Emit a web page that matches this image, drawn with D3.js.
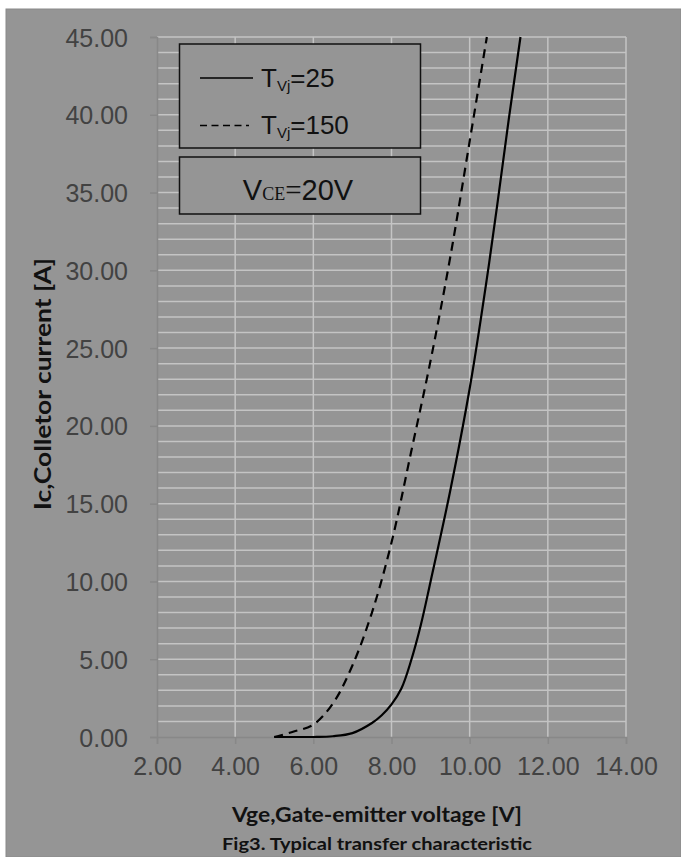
<!DOCTYPE html>
<html>
<head>
<meta charset="utf-8">
<script src="https://cdn.jsdelivr.net/npm/d3@7"></script>
<style>
  body { margin: 0; background: #fff; }
  svg { display: block; }
</style>
</head>
<body>
<svg id="chart" width="681" height="857"></svg>
<script>
// curve data
const vge25 = [5.0, 5.5, 6.0, 6.5, 7.0, 7.5, 7.75, 8.0, 8.25, 8.5, 8.75, 9.0, 9.5, 10.0, 10.5, 11.0, 11.3];
const ic25 = [0, 0, 0, 0.05, 0.25, 0.9, 1.4, 2.1, 3.1, 4.9, 7.2, 10.0, 15.8, 22.4, 30.5, 39.7, 45];
const vge150 = [5.0, 5.5, 6.0, 6.5, 7.0, 7.5, 8.0, 8.5, 9.0, 9.5, 10.0, 10.44];
const ic150 = [0, 0.35, 0.8, 2.15, 4.6, 8.0, 12.5, 18.3, 24.2, 30.8, 38.3, 45];

const xTicks = [2, 4, 6, 8, 10, 12, 14];
const yTicks = [0, 5, 10, 15, 20, 25, 30, 35, 40, 45];
const yMinor = d3.range(0, 46, 1);

const svg = d3.select('#chart');
const W = 681, H = 857;
const plot = { left: 157, right: 626, top: 37, bottom: 737 };

// gray panel
svg.append('rect')
  .attr('x', 6).attr('y', 9)
  .attr('width', W - 6).attr('height', H - 9)
  .attr('fill', '#959595')
  .attr('stroke', '#8a8a8a');

const x = d3.scaleLinear().domain([2, 14]).range([plot.left, plot.right]);
const y = d3.scaleLinear().domain([0, 45]).range([plot.bottom, plot.top]);

// grid
const grid = svg.append('g').attr('stroke', '#c4c4c4').attr('stroke-width', 1.5);
grid.selectAll('.hg').data(yMinor.filter(d => d > 0)).enter().append('line')
  .attr('x1', plot.left).attr('x2', plot.right)
  .attr('y1', d => y(d)).attr('y2', d => y(d));
grid.selectAll('.vg').data(xTicks.filter(d => d > 2)).enter().append('line')
  .attr('x1', d => x(d)).attr('x2', d => x(d))
  .attr('y1', plot.top).attr('y2', plot.bottom);

// axes
const xAxis = d3.axisBottom(x).tickValues(xTicks).tickFormat(d3.format('.2f')).tickSize(7).tickPadding(13);
const yAxis = d3.axisLeft(y).tickValues(yTicks).tickFormat(d3.format('.2f')).tickSize(7).tickPadding(22);

const gx = svg.append('g').attr('transform', `translate(0,${plot.bottom})`).call(xAxis);
const gy = svg.append('g').attr('transform', `translate(${plot.left},0)`).call(yAxis);

[gx, gy].forEach(g => {
  g.select('.domain').attr('stroke', '#888').attr('stroke-width', 1.5);
  g.selectAll('.tick line').attr('stroke', '#888').attr('stroke-width', 1.5);
  g.selectAll('.tick text')
    .attr('fill', '#424242')
    .attr('font-family', 'Liberation Sans, Arial, sans-serif')
    .attr('font-size', 25);
});
gy.selectAll('.tick text').attr('dy', '0.36em');

// curves
svg.append('clipPath').attr('id', 'plotclip').append('rect')
  .attr('x', plot.left).attr('y', plot.top - 1)
  .attr('width', plot.right - plot.left).attr('height', plot.bottom - plot.top + 2);

const line = d3.line()
  .x(d => x(d[0])).y(d => y(d[1]))
  .curve(d3.curveCatmullRom.alpha(0.5));

svg.append('path')
  .datum(d3.zip(vge25, ic25))
  .attr('clip-path', 'url(#plotclip)')
  .attr('fill', 'none').attr('stroke', '#000').attr('stroke-width', 2.2)
  .attr('d', line);

svg.append('path')
  .datum(d3.zip(vge150, ic150))
  .attr('clip-path', 'url(#plotclip)')
  .attr('fill', 'none').attr('stroke', '#000').attr('stroke-width', 2.2)
  .attr('stroke-dasharray', '9,6')
  .attr('d', line);

// legend boxes
const lg = svg.append('g');
lg.append('rect').attr('x', 179.5).attr('y', 44).attr('width', 241).attr('height', 104)
  .attr('fill', '#959595').attr('stroke', '#111').attr('stroke-width', 1.5);
lg.append('rect').attr('x', 179.5).attr('y', 157).attr('width', 241).attr('height', 57)
  .attr('fill', '#959595').attr('stroke', '#111').attr('stroke-width', 1.5);

lg.append('line').attr('x1', 200).attr('x2', 253).attr('y1', 78).attr('y2', 78)
  .attr('stroke', '#000').attr('stroke-width', 1.5);
lg.append('line').attr('x1', 200).attr('x2', 249).attr('y1', 125.5).attr('y2', 125.5)
  .attr('stroke', '#000').attr('stroke-width', 1.5).attr('stroke-dasharray', '7,4.5');

function tvj(yBase, val) {
  const t = lg.append('text').attr('x', 261).attr('y', yBase)
    .attr('font-family', 'Liberation Sans, Arial, sans-serif')
    .attr('font-size', 26).attr('fill', '#111');
  t.append('tspan').text('T');
  t.append('tspan').attr('font-size', 15).attr('dy', 4).text('Vj');
  t.append('tspan').attr('dy', -4).text('=' + val);
}
tvj(87, '25');
tvj(134, '150');

const vce = lg.append('text').attr('x', 298).attr('y', 200)
  .attr('text-anchor', 'middle').attr('fill', '#111');
vce.append('tspan').attr('font-family', 'Liberation Sans, Arial, sans-serif').attr('font-size', 29).text('V');
vce.append('tspan').attr('font-family', 'Liberation Serif, Times New Roman, serif').attr('font-size', 18).text('CE');
vce.append('tspan').attr('font-family', 'Liberation Serif, Times New Roman, serif').attr('font-size', 29).text('=');
vce.append('tspan').attr('font-family', 'Liberation Sans, Arial, sans-serif').attr('font-size', 29).text('20V');

// axis titles
svg.append('text')
  .attr('transform', `translate(51,384) rotate(-90)`)
  .attr('text-anchor', 'middle')
  .attr('font-family', 'Lato, sans-serif').attr('font-weight', 'bold')
  .attr('font-size', 23).attr('fill', '#111')
  .attr('textLength', 252).attr('lengthAdjust', 'spacingAndGlyphs')
  .text('Ic,Colletor current [A]');

svg.append('text')
  .attr('x', 377).attr('y', 822)
  .attr('text-anchor', 'middle')
  .attr('font-family', 'Lato, sans-serif').attr('font-weight', 'bold')
  .attr('font-size', 21).attr('fill', '#111')
  .attr('textLength', 290).attr('lengthAdjust', 'spacingAndGlyphs')
  .text('Vge,Gate-emitter voltage [V]');

svg.append('text')
  .attr('x', 377).attr('y', 850)
  .attr('text-anchor', 'middle')
  .attr('font-family', 'Lato, sans-serif').attr('font-weight', 'bold')
  .attr('font-size', 17).attr('fill', '#111')
  .attr('textLength', 310).attr('lengthAdjust', 'spacingAndGlyphs')
  .text('Fig3. Typical transfer characteristic');
</script>
</body>
</html>
